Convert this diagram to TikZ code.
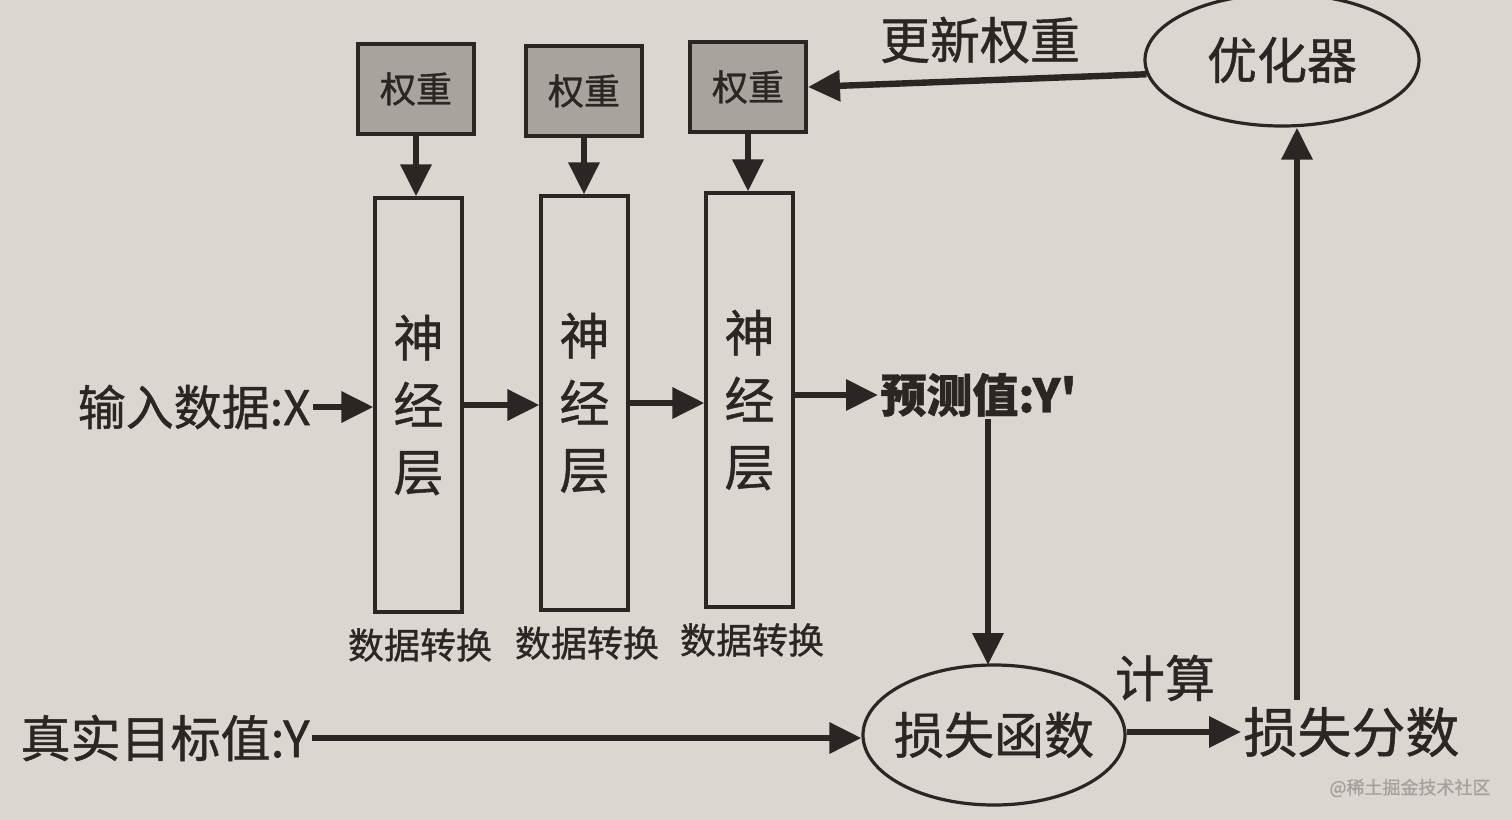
\documentclass[tikz,border=0pt]{standalone}
\usepackage{fontspec}
\setmainfont{Noto Sans CJK SC}[FakeBold=0.9]
\usetikzlibrary{arrows.meta,shapes.geometric}
\definecolor{paper}{RGB}{219,214,208}
\definecolor{ink}{RGB}{43,38,36}
\definecolor{wfill}{RGB}{168,163,156}
\definecolor{wmark}{RGB}{165,161,157}
\begin{document}
\begin{tikzpicture}[x=0.5pt,y=-0.5pt,
  every node/.style={text=ink},
  wbox/.style={draw=ink,line width=2pt,fill=wfill,minimum width=58pt,minimum height=45pt,inner sep=0pt,font=\fontsize{18}{20}\selectfont},
  layerbox/.style={draw=ink,line width=1.6pt,fill=paper,minimum width=43.5pt,minimum height=207pt,inner sep=0pt,align=center,font=\fontsize{25}{33.5}\selectfont},
  oval/.style={ellipse,draw=ink,line width=1.6pt,inner sep=0pt,font=\fontsize{25}{28}\selectfont},
  lbl/.style={inner sep=1pt,font=\fontsize{24}{26}\selectfont},
  small/.style={inner sep=1pt,font=\fontsize{18}{20}\selectfont},
  arr/.style={draw=ink,line width=3.2pt,-{Triangle[length=16pt,width=15pt]}}]
\fill[paper] (0,0) rectangle (1512,820);
\useasboundingbox (0,0) rectangle (1512,820);
% weights
\node[wbox] (w1) at (416,89) {权重};
\node[wbox] (w2) at (584,91) {权重};
\node[wbox] (w3) at (748,87) {权重};
% layers
\node[layerbox] (l1) at (418.5,405) {神\\经\\层};
\node[layerbox] (l2) at (584.5,403) {神\\经\\层};
\node[layerbox] (l3) at (749.5,400) {神\\经\\层};
% labels under layers
\node[small] (d1) at (420,645) {数据转换};
\node[small] (d2) at (587,643) {数据转换};
\node[small] (d3) at (752,640) {数据转换};
% texts
\node[lbl,anchor=east] (x) at (313,407) {输入数据:X};
\node[lbl,anchor=west,font=\fontsize{23}{26}\selectfont\bfseries] (pred) at (878,395) {预测值:Y\textquotesingle};
\node[lbl,anchor=east,font=\fontsize{25}{28}\selectfont] (truth) at (312,738) {真实目标值:Y};
\node[oval,minimum width=131pt,minimum height=70pt,inner xsep=-8pt] (loss) at (994,735) {损失函数};
\node[lbl,anchor=west,font=\fontsize{27}{29}\selectfont] (score) at (1241,732) {损失分数};
\node[oval,minimum width=137pt,minimum height=66pt] (opt) at (1282,60) {优化器};
\node[lbl,font=\fontsize{25}{28}\selectfont] (upd) at (980,40) {更新权重};
\node[lbl,font=\fontsize{25}{28}\selectfont] (calc) at (1165,678) {计算};
\node[inner sep=0pt,text=wmark,font=\fontsize{9}{10}\selectfont] (wm) at (1410,788) {@稀土掘金技术社区};
\coordinate (up) at (1297,700);
% connectors
\draw[arr] (w1) -- (w1 |- l1.north);
\draw[arr] (w2) -- (w2 |- l2.north);
\draw[arr] (w3) -- (w3 |- l3.north);
\draw[arr] (x.east) -- (x.east -| l1.west);
\draw[arr] (l1.east) -- (l1.east -| l2.west);
\draw[arr] (l2.east) -- (l2.east -| l3.west);
\draw[arr] (l3.east |- pred.west) -- (pred.west);
\draw[arr] (pred.south -| 988,0) -- (988,665);
\draw[arr] (truth.east) -- (truth.east -| loss.west);
\draw[arr] (loss.east |- score.west) -- (score.west);
\draw[arr] (up) -- (up |- opt.south);
\draw[arr] (opt.186) -- (w3.east);
\end{tikzpicture}
\end{document}
